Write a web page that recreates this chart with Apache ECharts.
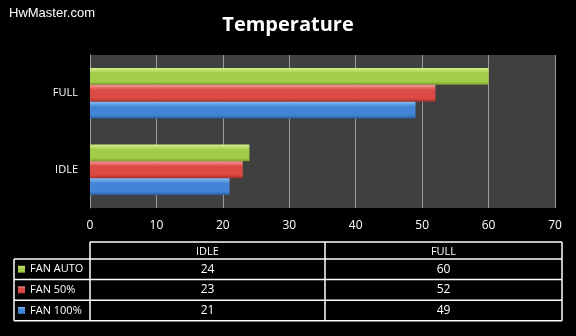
<!DOCTYPE html>
<html>
<head>
<meta charset="utf-8">
<script src="https://cdn.jsdelivr.net/npm/echarts@6/dist/echarts.min.js"></script>
<style>
  html, body { margin: 0; padding: 0; background: #000; }
  #chart { width: 576px; height: 336px; }
</style>
</head>
<body>
<div id="chart"></div>
<script>
// Temperature readings per fan setting
var categories = ['IDLE', 'FULL'];
var seriesNames = ['FAN AUTO', 'FAN 50%', 'FAN 100%'];
var fanAuto = [24, 60];
var fan50 = [23, 52];
var fan100 = [21, 49];
var xTicks = [0, 10, 20, 30, 40, 50, 60, 70];

var palette = {
  'FAN AUTO': ['#d3f08c', '#a3cd48', '#789c2c'],
  'FAN 50%': ['#f49a95', '#dc4a44', '#a52f2a'],
  'FAN 100%': ['#8cbcf2', '#4285d6', '#2b5c9c']
};

function barGradient(name) {
  var c = palette[name];
  return new echarts.graphic.LinearGradient(0, 0, 0, 1, [
    { offset: 0, color: c[0] },
    { offset: 0.3, color: c[1] },
    { offset: 0.8, color: c[1] },
    { offset: 1, color: c[2] }
  ]);
}

var values = { 'FAN AUTO': fanAuto, 'FAN 50%': fan50, 'FAN 100%': fan100 };

var series = seriesNames.map(function (name) {
  return {
    name: name,
    type: 'bar',
    data: values[name],
    barGap: '0%',
    barCategoryGap: '34%',
    itemStyle: { color: barGradient(name) },
    silent: true
  };
});

// data table under the plot
var tableFont = '12px "Open Sans", sans-serif';
var nameFont = '11px "Open Sans", sans-serif';
var tLeft = 14, tCol1 = 90, tCol2 = 325, tRight = 562;
var tTop = 242, tHead = 259, rowH = 20.6;
var graphics = [];
var lineStyle = { stroke: '#fff', lineWidth: 1.5 };
function hline(x1, x2, y) {
  graphics.push({ type: 'line', shape: { x1: x1, y1: y, x2: x2, y2: y }, style: lineStyle, silent: true });
}
function vline(x, y1, y2) {
  graphics.push({ type: 'line', shape: { x1: x, y1: y1, x2: x, y2: y2 }, style: lineStyle, silent: true });
}
var tBottom = tHead + rowH * seriesNames.length;
hline(tCol1, tRight, tTop);
hline(tLeft, tRight, tHead);
for (var r = 1; r <= seriesNames.length; r++) hline(tLeft, tRight, tHead + rowH * r);
vline(tLeft, tHead, tBottom);
vline(tCol1, tTop, tBottom);
vline(tCol2, tTop, tBottom);
vline(tRight, tTop, tBottom);

var colCenters = [(tCol1 + tCol2) / 2, (tCol2 + tRight) / 2];
categories.forEach(function (cat, i) {
  graphics.push({
    type: 'text', silent: true,
    style: { text: cat, x: colCenters[i], y: (tTop + tHead) / 2 + 1, align: 'center', verticalAlign: 'middle', fill: '#fff', font: nameFont }
  });
});
seriesNames.forEach(function (name, r) {
  var cy = tHead + rowH * r + rowH / 2;
  graphics.push({
    type: 'rect', silent: true,
    shape: { x: 18, y: cy - 3.5, width: 7, height: 7 },
    style: { fill: barGradient(name) }
  });
  graphics.push({
    type: 'text', silent: true,
    style: { text: name, x: 30, y: cy, align: 'left', verticalAlign: 'middle', fill: '#fff', font: nameFont }
  });
  values[name].forEach(function (v, i) {
    graphics.push({
      type: 'text', silent: true,
      style: { text: String(v), x: colCenters[i], y: cy, align: 'center', verticalAlign: 'middle', fill: '#fff', font: tableFont }
    });
  });
});

var chart = echarts.init(document.getElementById('chart'), null, { renderer: 'canvas' });
chart.setOption({
  backgroundColor: '#000',
  animation: false,
  title: [
    {
      text: 'Temperature', left: 'center', top: 10,
      textStyle: { color: '#fff', fontSize: 20, fontWeight: 'bold', fontFamily: '"Open Sans", sans-serif' }
    },
    {
      text: 'HwMaster.com', left: 4, top: 2,
      textStyle: { color: '#fff', fontSize: 13, fontWeight: 'normal', fontFamily: '"Liberation Sans", Arial, sans-serif' }
    }
  ],
  grid: { left: 90, right: 21, top: 55, bottom: 128, containLabel: false, show: true, backgroundColor: '#404040', borderWidth: 0 },
  xAxis: {
    type: 'value', min: xTicks[0], max: xTicks[xTicks.length - 1], interval: 10,
    axisLine: { show: false },
    axisTick: { show: false },
    splitLine: { show: true, lineStyle: { color: '#9a9a9a', width: 1 } },
    axisLabel: { color: '#fff', fontSize: 12, margin: 12, fontFamily: '"Open Sans", sans-serif' }
  },
  yAxis: {
    type: 'category', data: categories,
    axisLine: { show: true, lineStyle: { color: '#9a9a9a' } },
    axisTick: { show: false },
    axisLabel: { color: '#fff', fontSize: 11, margin: 12, fontFamily: '"Open Sans", sans-serif' }
  },
  series: series,
  graphic: graphics
});
</script>
</body>
</html>
